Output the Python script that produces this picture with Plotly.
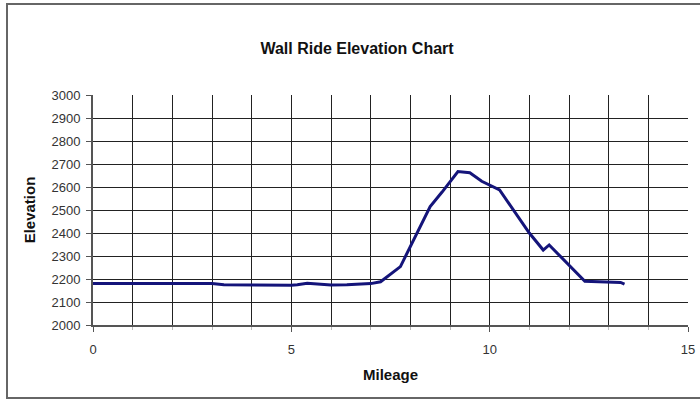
import plotly.graph_objects as go

mileage = [0, 1, 2, 3, 3.3, 4, 5, 5.15, 5.4, 6.0, 6.4, 7.0, 7.25, 7.75, 8.0, 8.2,
           8.5, 8.8, 9.0, 9.2, 9.5, 9.8, 10.25, 11.0, 11.35, 11.5, 12.4, 13.0, 13.3, 13.4]
elevation = [2180, 2180, 2180, 2180, 2175, 2173, 2173, 2175, 2181, 2174, 2175, 2180, 2188,
             2254, 2340, 2410, 2515, 2578, 2625, 2667, 2662, 2625, 2587, 2400, 2326, 2348,
             2190, 2188, 2185, 2178]

title_text = "Wall Ride Elevation Chart"
x_title = "Mileage"
y_title = "Elevation"
x_ticks = [0, 5, 10, 15]
x_grid = [1, 2, 3, 4, 5, 6, 7, 8, 9, 10, 11, 12, 13, 14]
y_grid = [2100, 2200, 2300, 2400, 2500, 2600, 2700, 2800, 2900]

font_family = "Liberation Sans, Arial, sans-serif"
grid_color = "#222"

fig = go.Figure()
# helper (empty) trace so the grid-only overlay axes get drawn
fig.add_trace(go.Scatter(x=[], y=[], xaxis="x2", yaxis="y2", showlegend=False,
                         hoverinfo="skip"))
fig.add_trace(go.Scatter(x=mileage, y=elevation, mode="lines",
                         line=dict(color="#14147a", width=3), showlegend=False))

fig.update_layout(
    width=700, height=401,
    margin=dict(l=93, r=12, t=95, b=76, autoexpand=False),
    paper_bgcolor="white", plot_bgcolor="white",
    font=dict(family=font_family, color="#222"),
    title=dict(text="<b>" + title_text + "</b>", x=357/700, xref="container", xanchor="center",
               y=1 - 48/401, yref="container", yanchor="middle",
               font=dict(size=16, color="#111")),
    xaxis2=dict(overlaying="x", range=[0, 15], tickvals=x_grid, showticklabels=False,
                showgrid=True, gridcolor=grid_color, gridwidth=1, ticks="", zeroline=False,
                showline=False, side="bottom"),
    yaxis2=dict(overlaying="y", range=[2000, 3000], tickvals=y_grid, showticklabels=False,
                showgrid=True, gridcolor=grid_color, gridwidth=1, ticks="", zeroline=False,
                showline=False, side="left"),
)
fig.layout.xaxis.update(
    range=[0, 15], tickvals=x_ticks, showgrid=False, automargin=False,
    showline=True, linecolor="#555", linewidth=2, ticks="outside", ticklen=5,
    tickcolor="#555", tickfont=dict(size=13, color="#333"), zeroline=False,
    ticklabelstandoff=6,
    minor=dict(dtick=1, showgrid=False, ticks="outside", ticklen=3, tickcolor="#bbb"),
    title=dict(text="<b>" + x_title + "</b>", font=dict(size=15, color="#111"), standoff=14),
)
fig.layout.yaxis.update(
    range=[2000, 3000], dtick=100, showgrid=False, automargin=False,
    showline=True, linecolor="#555", linewidth=2, ticks="outside", ticklen=5,
    tickcolor="#555", tickfont=dict(size=13, color="#333"), zeroline=False,
    ticklabelstandoff=3,
    title=dict(text="<b>" + y_title + "</b>", font=dict(size=15, color="#111"), standoff=12),
)

# outer chart frame
fig.add_shape(type="rect", xref="paper", yref="paper",
              x0=(7 - 93) / 595, x1=(703 - 93) / 595,
              y0=-(398 - 325) / 230, y1=1 + (95 - 4) / 230,
              line=dict(color="#666", width=2), layer="below")

fig.write_html("out.html", config={"displayModeBar": False},
               post_script="document.body.style.margin='0px';")
